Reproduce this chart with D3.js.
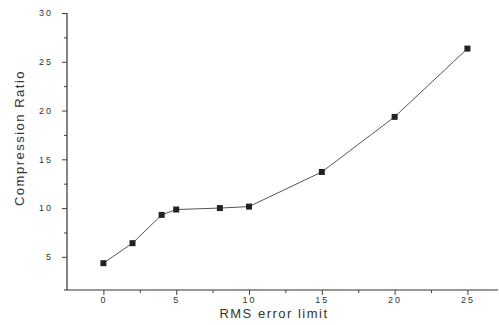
<!DOCTYPE html>
<html>
<head>
<meta charset="utf-8">
<script src="https://cdn.jsdelivr.net/npm/d3@7"></script>
<style>
  body { margin: 0; background: #fff; }
  text { font-family: "Liberation Sans", Arial, sans-serif; fill: #333; }
</style>
</head>
<body>
<div id="chart"></div>
<script>
// data
const rmsLimit = [0, 2, 4, 5, 8, 10, 15, 20, 25];
const compressionRatio = [4.35, 6.4, 9.3, 9.85, 10.0, 10.15, 13.7, 19.35, 26.35];
const xTicks = [0, 5, 10, 15, 20, 25];
const yTicks = [5, 10, 15, 20, 25, 30];
const xMinor = [2.5, 7.5, 12.5, 17.5, 22.5];
const yMinor = [7.5, 12.5, 17.5, 22.5, 27.5];

const width = 499, height = 325;
const mLeft = 67, mRight = 498, mTop = 13, mBottom = 290;

const svg = d3.select('#chart').append('svg')
  .attr('width', width)
  .attr('height', height);

const x = d3.scaleLinear().domain([-2.5, 27.1]).range([mLeft, mRight]);
const y = d3.scaleLinear().domain([1.6, 30]).range([mBottom, mTop]);

// x axis
svg.append('g')
  .attr('transform', `translate(0,${mBottom})`)
  .call(d3.axisBottom(x).tickValues(xMinor).tickSize(3).tickFormat(''))
  .select('.domain').remove();
const xAxis = svg.append('g').attr('transform', `translate(0,${mBottom})`)
  .call(d3.axisBottom(x).tickValues(xTicks).tickSize(5).tickFormat(d => d).tickPadding(2));
xAxis.select('.domain').attr('d', `M${mLeft - 3},0H${mRight}`);

// y axis
svg.append('g')
  .attr('transform', `translate(${mLeft},0)`)
  .call(d3.axisLeft(y).tickValues(yMinor).tickSize(3).tickFormat(''))
  .select('.domain').remove();
const yAxis = svg.append('g').attr('transform', `translate(${mLeft},0)`)
  .call(d3.axisLeft(y).tickValues(yTicks).tickSize(5).tickFormat(d => d).tickPadding(9));
yAxis.select('.domain').attr('d', `M0,${mTop}V${mBottom}`);

svg.selectAll('.domain').attr('stroke', '#333').attr('stroke-width', 1.2);
svg.selectAll('.tick line').attr('stroke', '#444');
svg.selectAll('.tick text')
  .style('font-size', '9px')
  .style('letter-spacing', '2px')
  .attr('fill', '#333');

// line
const pts = rmsLimit.map((d, i) => [d, compressionRatio[i]]);
svg.append('path')
  .datum(pts)
  .attr('fill', 'none')
  .attr('stroke', '#555')
  .attr('stroke-width', 1)
  .attr('d', d3.line().x(d => x(d[0])).y(d => y(d[1])));

svg.selectAll('rect.pt')
  .data(pts)
  .enter().append('rect')
  .attr('class', 'pt')
  .attr('x', d => x(d[0]) - 3)
  .attr('y', d => y(d[1]) - 3)
  .attr('width', 6)
  .attr('height', 6)
  .attr('fill', '#222');

// axis titles
svg.append('text')
  .attr('x', 274)
  .attr('y', 318)
  .attr('text-anchor', 'middle')
  .style('font-size', '13px')
  .style('letter-spacing', '1.5px')
  .text('RMS error limit');

svg.append('text')
  .attr('transform', 'translate(24,138) rotate(-90)')
  .attr('text-anchor', 'middle')
  .style('font-size', '13px')
  .style('letter-spacing', '1.5px')
  .text('Compression Ratio');
</script>
</body>
</html>
